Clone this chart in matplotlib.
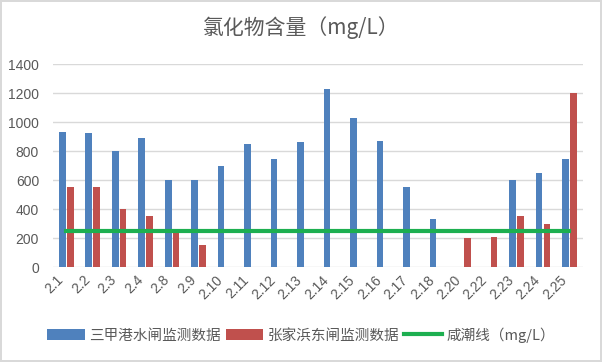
import matplotlib
matplotlib.use('Agg')
import matplotlib.pyplot as plt
import matplotlib.transforms as mtransforms
import numpy as np

plt.rcParams['font.family'] = ['Noto Sans CJK SC', 'DejaVu Sans']

# 数据
dates = ['2.1', '2.2', '2.3', '2.4', '2.8', '2.9', '2.10', '2.11', '2.12', '2.13',
         '2.14', '2.15', '2.16', '2.17', '2.18', '2.20', '2.22', '2.23', '2.24', '2.25']
sanjiagang = [935, 925, 800, 890, 600, 600, 700, 850, 745, 865,
              1230, 1030, 870, 555, 330, 0, 0, 600, 650, 745]
zhangjiabang = [550, 550, 400, 350, 250, 150, 0, 0, 0, 0,
                0, 0, 0, 0, 0, 200, 205, 350, 300, 1200]
xianchao = [250] * len(dates)

labels = ['三甲港水闸监测数据', '张家浜东闸监测数据', '咸潮线（mg/L）']
title = '氯化物含量（mg/L）'

grey = '#595959'
blue = '#4F81BD'
red = '#C0504D'
green = '#1DAF50'

fig = plt.figure(figsize=(6.02, 3.62), dpi=100)
fig.patch.set_edgecolor('#D9D9D9')
fig.patch.set_linewidth(1.5)
ax = fig.add_axes([0.088, 0.262, 0.880, 0.561])

x = np.arange(len(dates))
w = 0.25
b1 = ax.bar(x - 0.15, sanjiagang, width=w, color=blue, zorder=2)
b2 = ax.bar(x + 0.15, zhangjiabang, width=w, color=red, zorder=2)
l1, = ax.plot(x, xianchao, color=green, linewidth=3, zorder=3)

ax.set_xlim(-0.5, len(dates) - 0.5)
ax.set_ylim(0, 1400)
ax.set_yticks(range(0, 1401, 200))
ax.yaxis.grid(True, color='#D9D9D9', linewidth=1, zorder=0)
ax.set_axisbelow(True)
for s in ax.spines.values():
    s.set_visible(False)
ax.tick_params(length=0, colors=grey)
ax.tick_params(axis='y', pad=10)
ax.set_yticklabels([str(v) for v in range(0, 1401, 200)],
                   family=['Liberation Sans', 'DejaVu Sans'], fontsize=10, color=grey)

ax.set_xticks(x)
ax.set_xticklabels(dates, rotation=45, ha='right',
                   family=['Liberation Sans', 'DejaVu Sans'], fontsize=10, color=grey)
offset = mtransforms.ScaledTranslation(-4 / 100, 0, fig.dpi_scale_trans)
for lab in ax.get_xticklabels():
    lab.set_transform(lab.get_transform() + offset)
ax.tick_params(axis='x', pad=4)

fig.text(0.5, 0.925, title, ha='center', va='center', fontsize=15, color=grey)

fig.legend([b1, b2, l1], labels, loc='center', bbox_to_anchor=(0.5, 0.075), ncol=3,
           frameon=False, fontsize=10.5, handlelength=2.6, handleheight=0.8,
           columnspacing=0.3, handletextpad=0.3, labelcolor=grey)

plt.savefig('out.png', dpi=100)
